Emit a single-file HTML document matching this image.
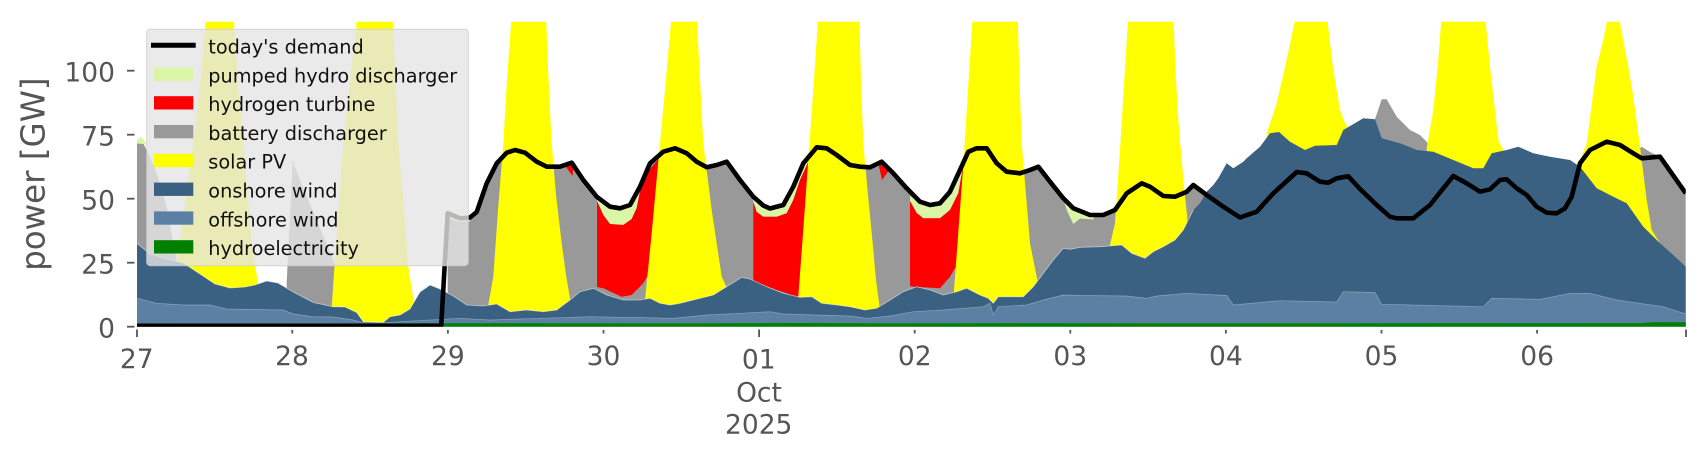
<!DOCTYPE html>
<html>
<head>
<meta charset="utf-8">
<style>
  html, body { margin: 0; padding: 0; background: #ffffff; }
  body { width: 1706px; height: 460px; overflow: hidden; }
  svg { display: block; }
  text { font-family: "DejaVu Sans", "Liberation Sans", sans-serif; }
</style>
</head>
<body>
<svg width="1706" height="460" viewBox="0 0 1706 460" xmlns="http://www.w3.org/2000/svg">
  <defs>
    <clipPath id="plot">
      <rect x="137" y="21.7" width="1548.8" height="305"/>
    </clipPath>
  </defs>

  <g clip-path="url(#plot)">
    <!-- battery discharger (gray) -->
    <polygon fill="#999999" points="137,326.7 137,141 143.3,143.3 150,157 156.7,173.3 166.7,206.7 176.7,261.7 176.7,326.7"/>
    <polygon fill="#999999" points="286.7,326.7 286.7,282 292.7,161.7 300,180 336,266.7 333,306.7 333,326.7"/>
    <polygon fill="#999999" points="447.7,326.7 447.7,213.3 460,218.3 470,217.5 476.7,212 486.7,183.3 496.7,163.3 506.7,152.7 515,150 525,152.7 536.7,161.7 546.7,166.7 560,166.7 571.7,162.7 583.3,180 596.7,196.7 610,206.7 620,208.3 630,205 640,186.7 650,163.3 663.3,151.7 675,148.3 686.7,153.3 696.7,161.7 706.7,167.3 716.7,165 726.7,161.7 740,180 753.3,196.7 763.3,205.5 770,208.5 783.3,205 793.3,186.7 803.3,163.3 816.7,147.3 826.7,148.3 836.7,155 850,165 860,166.7 870,167.3 881.7,161.7 893.3,173.3 906.7,188.3 920,201.7 930,205 940,203.3 950,191.7 960,170 968.3,151.7 976.7,148.3 986.7,148.3 996.7,163.3 1006.7,171.7 1020,173.3 1030,170 1038.3,166.7 1050,181.7 1063.3,198.3 1073.3,208.3 1090,215 1103.3,215 1115,210 1126.7,193.3 1141.7,183.3 1150,186.7 1163.3,196 1175,196.7 1186.7,191.7 1193.3,185 1206.7,195 1223.3,206.7 1240,217.5 1256.7,211.7 1273.3,193.3 1296.7,172 1306.7,173.3 1320,181.7 1328.3,182.7 1336.7,178.3 1348.3,176.3 1360,189 1376.7,205 1390,216.7 1396.7,218.3 1413.3,218.3 1430,205 1443.3,188.3 1453.3,176 1466.7,183.3 1480,191.7 1490,189.3 1500,180 1506.7,179.3 1516.7,188.3 1526.7,195 1536.7,206.7 1546.7,212.7 1556.7,213.3 1565,208.3 1571.7,196.7 1580,163.3 1590,150 1606.7,141.7 1620,145 1633.3,153.3 1638,150 1641.7,146.7 1650,152 1660,156.7 1685.8,193.3 1685.8,326.7"/>
    <polygon fill="#999999" points="1375,326.7 1375,119.3 1381.7,99.3 1386.7,99.3 1396.7,116.7 1410,130 1420,135 1426.7,141.7 1430,148 1430,326.7"/>

    <!-- pumped hydro discharger -->
    <polygon fill="#dbf5a6" points="137,140 141,136.8 147.5,145 143.3,144 137,143.5"/>
    <polygon fill="#dbf5a6" points="290.7,162.5 292.7,158.5 297,166 292.7,165"/>
    <polygon fill="#dbf5a6" points="447.7,214.5 460,219.5 470,218.5 470,221.5 460,222 447.7,218"/>
    <polygon fill="#dbf5a6" points="597,197 610,206.7 620,208.3 630,205 640,186.7 642,182 640,191 636.7,208 631.7,219 623.3,225 610,224 603.3,215 597,201"/>
    <polygon fill="#dbf5a6" points="753.3,196.7 763.3,205.5 770,208.5 783.3,205 793.3,186.7 803.3,163.3 811,150 808.3,162 800,180 793.3,200 786.7,213.3 776.7,216.7 763.3,216.7 756.7,212 753.3,202"/>
    <polygon fill="#dbf5a6" points="910,196 920,201.7 930,205 940,203.3 950,191.7 960,170 966.7,153.3 963.3,165 958.3,193.3 950,210 940,218.3 923.3,218.3 916.7,213 910,201"/>
    <polygon fill="#dbf5a6" points="1063.3,198.3 1073.3,208.3 1090,215 1095,215 1093.3,219.5 1080,218.5 1073.3,224 1066.7,210"/>

    <!-- hydrogen turbine -->
    <polygon fill="#ff0000" points="597,201 603.3,215 610,224 623.3,225 631.7,219 636.7,208 640,191 645,175 662,155 662,250 648,275 643.3,283.3 631.7,295 621.7,296.7 603.3,288.3 597,287"/>
    <polygon fill="#ff0000" points="753.3,202 756.7,212 763.3,216.7 776.7,216.7 786.7,213.3 793.3,200 800,180 808.3,162 812,152 815,152 815,297 796.7,296.7 776.7,290 757,283 753.3,281"/>
    <polygon fill="#ff0000" points="910,201 916.7,213 923.3,218.3 940,218.3 950,210 958.3,193.3 963.3,165 966.7,153.3 969,152 966,200 961.7,256.7 950,276.7 940,288.3 913.3,286.7 910,286"/>
    <polygon fill="#ff0000" points="566,167 574,163.5 572.5,176"/>
    <polygon fill="#ff0000" points="878.3,163 890,169 882,180"/>

    <!-- solar PV -->
    <polygon fill="#ffff00" points="176.7,326.7 176.7,261.7 185,205 193.3,143.3 200,85 205,30 206,15 234,15 234.3,30 238,85 243.3,143.3 248,200 253.3,256.7 258.3,283 258.3,326.7"/>
    <polygon fill="#ffff00" points="331.7,326.7 331.7,306.7 337,230 343.3,143.3 350,80 356,30 357,15 392.5,15 393.3,30 398.3,143.3 404,210 408.3,266.7 413.3,298.3 414,326.7"/>
    <polygon fill="#ffff00" points="488.3,326.7 488.3,305 493.3,276.7 498,210 503.3,143.3 507,80 511.7,15 546,15 548.5,80 551.7,143.3 556,195 561.7,243.3 566,275 570,298.3 570,326.7"/>
    <polygon fill="#ffff00" points="645,326.7 645,300 652,230 658.6,158 665,90 671.7,15 696.7,15 700,80 703.3,143.3 711.7,210 721.7,276.7 726.5,287 726.5,326.7"/>
    <polygon fill="#ffff00" points="798.3,326.7 798.3,296.7 804,220 809,150 814,80 818.3,15 859.3,15 861,80 863.3,143.3 868,195 872.7,243.3 876,280 880,310 880,326.7"/>
    <polygon fill="#ffff00" points="954,326.7 954,290 958.5,230 963.3,165 968,90 972.7,15 1017.7,15 1019.5,80 1021.7,143.3 1026,195 1030,243.3 1037.3,280 1038,326.7"/>
    <polygon fill="#ffff00" points="1110,326.7 1110,245 1115,223.3 1120,150 1124,85 1128.3,15 1173.3,15 1176,80 1179,130 1185,196.7 1187,215 1190,326.7"/>
    <polygon fill="#ffff00" points="1266.7,326.7 1266.7,133.3 1276.7,103.3 1286.7,60 1296,15 1326.7,15 1333.3,70 1340,110 1345,123.3 1348.3,128.3 1350,326.7"/>
    <polygon fill="#ffff00" points="1426.7,326.7 1426.7,148.3 1433.3,110 1438.3,60 1441.7,15 1485,15 1490,66.7 1495,110 1498.3,140 1503.3,150 1505,326.7"/>
    <polygon fill="#ffff00" points="1578,326.7 1578,166 1586.7,143.3 1596.7,66.7 1603.3,40 1608.3,15 1618.3,15 1628.3,66.7 1633.3,96.7 1640,146.7 1646.7,200 1651.7,230 1660,243.3 1662,326.7"/>

    <!-- onshore wind -->
    <polygon fill="#3b6182" points="137,326.7 137,243.3 150,254 166.7,259 183.3,263 200,274 215,284 230,288 245,287 255,285 266.7,281 278,283 293.3,292 313.3,302.5 333,306.7 345,307 356.7,312.5 363.3,321.7 383.3,322.3 390,316.7 400,315 410,309 420,292 430,285 440,289 453.3,296 466.7,305 483.3,306 496.7,304 510,311.7 526.7,310 543.3,311.7 556.7,310 570,300 580,291.7 593.3,288.3 606.7,295 623.3,300 640,300 650,298.3 660,303.3 670,305 680,303.3 693.3,300 713.3,295 726.7,286.7 741.7,277.3 750,279 766.7,286.7 783.3,293.3 800,297.3 811.7,296.7 821.7,303.3 836.7,305 850,306.7 865,310 876.7,308.3 890,300 903.3,291.7 916.7,286.7 930,290 943.3,295 956.7,291.7 966.7,288.3 980,295 988.3,298.3 993.3,303.3 998.3,296.7 1010,296.7 1023.3,296.7 1033.3,286.7 1043.3,273.3 1053.3,260 1063.3,248.3 1070,249.3 1080,247.3 1100,246.7 1121.7,245 1131.7,253.3 1145,258.3 1153.3,251.7 1163.3,246.7 1175,240 1183.3,230 1193.3,210 1200,203.3 1206.7,191.7 1213.3,185 1218.3,178.3 1226.7,163.3 1233.3,168.3 1243.3,161.7 1246.7,158.3 1260,146.7 1270,133.3 1279,132 1290,141.7 1305,150 1315,145.7 1336.7,145 1343.3,130 1363.3,118.3 1375,119.3 1381.7,138.3 1400,143.3 1416.7,150 1433.3,151.7 1453.3,160 1473.3,168.3 1483.3,168.3 1491.7,153.3 1506.7,150 1518.3,146.7 1533.3,153.3 1550,156.7 1570,160 1580,166.7 1596.7,188.3 1613.3,196.7 1626.7,203.3 1643.3,226.7 1660,243.3 1673.3,255 1685.8,266.7 1685.8,326.7"/>
    <polyline fill="none" stroke="#ffffff" stroke-opacity="0.55" stroke-width="0.8" points="137,243.3 150,254 166.7,259 183.3,263 200,274 215,284 230,288 245,287 255,285 266.7,281 278,283 293.3,292 313.3,302.5 333,306.7 345,307 356.7,312.5 363.3,321.7 383.3,322.3 390,316.7 400,315 410,309 420,292 430,285 440,289 453.3,296 466.7,305 483.3,306 496.7,304 510,311.7 526.7,310 543.3,311.7 556.7,310 570,300 580,291.7 593.3,288.3 606.7,295 623.3,300 640,300 650,298.3 660,303.3 670,305 680,303.3 693.3,300 713.3,295 726.7,286.7 741.7,277.3 750,279 766.7,286.7 783.3,293.3 800,297.3 811.7,296.7 821.7,303.3 836.7,305 850,306.7 865,310 876.7,308.3 890,300 903.3,291.7 916.7,286.7 930,290 943.3,295 956.7,291.7 966.7,288.3 980,295 988.3,298.3 993.3,303.3 998.3,296.7 1010,296.7 1023.3,296.7 1033.3,286.7 1043.3,273.3 1053.3,260 1063.3,248.3 1070,249.3 1080,247.3 1100,246.7 1121.7,245 1131.7,253.3 1145,258.3 1153.3,251.7 1163.3,246.7 1175,240 1183.3,230 1193.3,210"/>

    <!-- offshore wind -->
    <polygon fill="#5b80a3" points="137,326.7 137,298.3 156.7,303.3 183.3,305 210,305 226.7,309 283.3,310 293.3,314 313,316.7 333.3,317 353.3,320 363.3,322.7 383.3,322.7 416.7,320.7 443.3,319.3 460,318.3 490,320 540,318.3 590,316.7 623.3,317.3 673.3,318.3 706.7,315 740,313.3 770,311.7 783.3,314 816.7,315 850,316 866.7,318.3 890,316 913.3,311.7 943.3,310 983.3,306.7 990,303.3 993.3,315 998.3,306.7 1026.7,305 1043.3,300 1063.3,295 1080,295.5 1126.7,296 1146.7,298.3 1156.7,296 1186.7,293.3 1226.7,295.5 1233.3,305 1280,300.7 1336.7,302 1343.3,291.7 1375,292.5 1381.7,304.3 1483.3,306.7 1491.7,298.3 1540,299.3 1570,293.3 1590,293.3 1616.7,300 1663.3,306.7 1685.8,314 1685.8,326.7"/>
    <polyline fill="none" stroke="#ffffff" stroke-opacity="0.35" stroke-width="0.7" points="137,298.3 156.7,303.3 183.3,305 210,305 226.7,309 283.3,310 293.3,314 313,316.7 333.3,317 353.3,320 363.3,322.7 383.3,322.7 416.7,320.7 443.3,319.3 460,318.3 490,320 540,318.3 590,316.7 623.3,317.3 673.3,318.3 706.7,315 740,313.3 770,311.7 783.3,314 816.7,315 850,316 866.7,318.3 890,316 913.3,311.7 943.3,310 983.3,306.7 990,303.3 993.3,315 998.3,306.7 1026.7,305 1043.3,300 1063.3,295 1080,295.5 1126.7,296 1146.7,298.3 1156.7,296 1186.7,293.3 1226.7,295.5 1233.3,305 1280,300.7 1336.7,302 1343.3,291.7 1375,292.5 1381.7,304.3 1483.3,306.7 1491.7,298.3 1540,299.3 1570,293.3 1590,293.3 1616.7,300 1663.3,306.7 1685.8,314"/>

    <!-- hydroelectricity -->
    <polygon fill="#008000" points="137,326.7 137,323.6 300,323.6 360,323.4 450,323.2 700,323.4 800,323.0 900,323.4 1000,323.2 1200,323.4 1300,323.4 1500,323.2 1640,323.3 1652,322.3 1685.8,322.2 1685.8,326.7"/>

    <!-- today's demand -->
    <polyline fill="none" stroke="#000000" stroke-width="4.6" stroke-linejoin="round" stroke-linecap="butt" points="137,325.8 441.2,325.8 447.7,213.3 460,218.3 470,217.5 476.7,212 486.7,183.3 496.7,163.3 506.7,152.7 515,150 525,152.7 536.7,161.7 546.7,166.7 560,166.7 571.7,162.7 583.3,180 596.7,196.7 610,206.7 620,208.3 630,205 640,186.7 650,163.3 663.3,151.7 675,148.3 686.7,153.3 696.7,161.7 706.7,167.3 716.7,165 726.7,161.7 740,180 753.3,196.7 763.3,205.5 770,208.5 783.3,205 793.3,186.7 803.3,163.3 816.7,147.3 826.7,148.3 836.7,155 850,165 860,166.7 870,167.3 881.7,161.7 893.3,173.3 906.7,188.3 920,201.7 930,205 940,203.3 950,191.7 960,170 968.3,151.7 976.7,148.3 986.7,148.3 996.7,163.3 1006.7,171.7 1020,173.3 1030,170 1038.3,166.7 1050,181.7 1063.3,198.3 1073.3,208.3 1090,215 1103.3,215 1115,210 1126.7,193.3 1141.7,183.3 1150,186.7 1163.3,196 1175,196.7 1186.7,191.7 1193.3,185 1206.7,195 1223.3,206.7 1240,217.5 1256.7,211.7 1273.3,193.3 1296.7,172 1306.7,173.3 1320,181.7 1328.3,182.7 1336.7,178.3 1348.3,176.3 1360,189 1376.7,205 1390,216.7 1396.7,218.3 1413.3,218.3 1430,205 1443.3,188.3 1453.3,176 1466.7,183.3 1480,191.7 1490,189.3 1500,180 1506.7,179.3 1516.7,188.3 1526.7,195 1536.7,206.7 1546.7,212.7 1556.7,213.3 1565,208.3 1571.7,196.7 1580,163.3 1590,150 1606.7,141.7 1620,145 1633.3,153.3 1641.7,158.3 1660,156.7 1685.8,193.3"/>
  </g>

  <!-- y ticks -->
  <g stroke="#555555" stroke-width="1.8">
    <line x1="127" y1="70.7" x2="134.5" y2="70.7"/>
    <line x1="127" y1="134.7" x2="134.5" y2="134.7"/>
    <line x1="127" y1="198.7" x2="134.5" y2="198.7"/>
    <line x1="127" y1="262.7" x2="134.5" y2="262.7"/>
    <line x1="127" y1="326.7" x2="134.5" y2="326.7"/>
  </g>
  <g fill="#555555" font-size="26.5" text-anchor="end">
    <text x="115" y="81.5">100</text>
    <text x="115" y="145.5">75</text>
    <text x="115" y="209.5">50</text>
    <text x="115" y="273.5">25</text>
    <text x="115" y="337.5">0</text>
  </g>

  <!-- x ticks -->
  <g stroke="#555555" stroke-width="1.8">
    <line x1="137" y1="329.5" x2="137" y2="337"/>
    <line x1="292.3" y1="330" x2="292.3" y2="333.5"/>
    <line x1="447.9" y1="330" x2="447.9" y2="333.5"/>
    <line x1="603.5" y1="330" x2="603.5" y2="333.5"/>
    <line x1="759.1" y1="329.5" x2="759.1" y2="337"/>
    <line x1="914.7" y1="330" x2="914.7" y2="333.5"/>
    <line x1="1070.3" y1="330" x2="1070.3" y2="333.5"/>
    <line x1="1225.9" y1="330" x2="1225.9" y2="333.5"/>
    <line x1="1381.5" y1="330" x2="1381.5" y2="333.5"/>
    <line x1="1537.1" y1="330" x2="1537.1" y2="333.5"/>
    <line x1="1686" y1="329.5" x2="1686" y2="337"/>
  </g>
  <g fill="#555555" font-size="26.5" text-anchor="middle">
    <text x="136.7" y="368">27</text>
    <text x="292" y="365">28</text>
    <text x="447.9" y="365">29</text>
    <text x="603.5" y="365">30</text>
    <text x="758.7" y="368.3">01</text>
    <text x="759" y="401.7">Oct</text>
    <text x="758.7" y="433.3">2025</text>
    <text x="914.7" y="365">02</text>
    <text x="1070.3" y="365">03</text>
    <text x="1225.9" y="365">04</text>
    <text x="1381.5" y="365">05</text>
    <text x="1537.1" y="365">06</text>
  </g>

  <!-- y label -->
  <text transform="translate(44.5,174.2) rotate(-90)" text-anchor="middle" font-size="32.5" fill="#555555">power [GW]</text>

  <!-- legend -->
  <rect x="146.7" y="29.3" width="321.6" height="236.4" rx="3.5" ry="3.5" fill="#e5e5e5" fill-opacity="0.8" stroke="#cccccc" stroke-opacity="0.8" stroke-width="1"/>
  <line x1="151" y1="45.2" x2="195.7" y2="45.2" stroke="#000000" stroke-width="5"/>
  <rect x="154" y="67.7" width="39.3" height="13.3" fill="#dbf5a6"/>
  <rect x="154" y="96.2" width="39.3" height="13.3" fill="#ff0000"/>
  <rect x="154" y="125" width="39.3" height="13.3" fill="#999999"/>
  <rect x="154" y="153.8" width="39.3" height="13.3" fill="#ffff00"/>
  <rect x="154" y="182.6" width="39.3" height="13.3" fill="#3b6182"/>
  <rect x="154" y="211.4" width="39.3" height="13.3" fill="#5b80a3"/>
  <rect x="154" y="240.2" width="39.3" height="13.3" fill="#008000"/>
  <g fill="#111111" font-size="19.3">
    <text x="208.3" y="53.5">today's demand</text>
    <text x="208.3" y="82.6">pumped hydro discharger</text>
    <text x="208.3" y="111.1">hydrogen turbine</text>
    <text x="208.3" y="139.9">battery discharger</text>
    <text x="208.3" y="168.7">solar PV</text>
    <text x="208.3" y="197.5">onshore wind</text>
    <text x="208.3" y="226.3">offshore wind</text>
    <text x="208.3" y="255.1">hydroelectricity</text>
  </g>
</svg>
</body>
</html>
